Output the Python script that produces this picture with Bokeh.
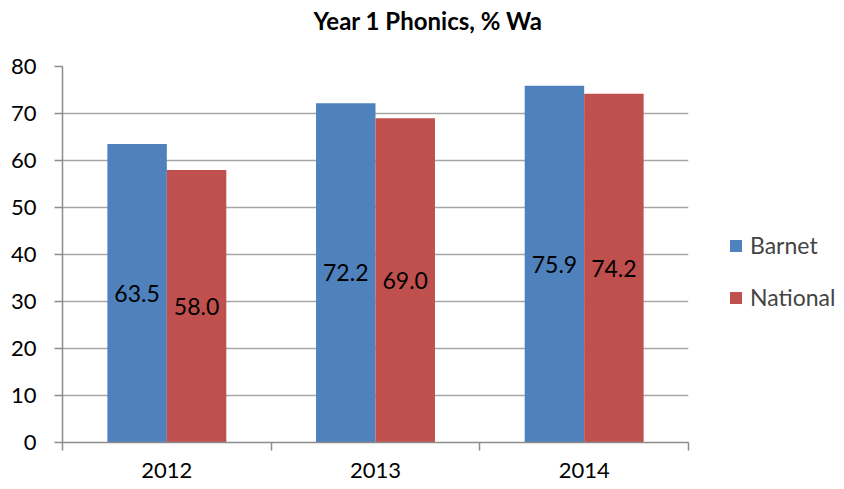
from bokeh.plotting import figure
from bokeh.models import (ColumnDataSource, FixedTicker, Legend, LegendItem,
                          LabelSet, Range1d, Title)
from bokeh.transform import dodge
from bokeh.core.properties import value
from bokeh.embed import file_html
from bokeh.resources import INLINE

years = ["2012", "2013", "2014"]
barnet = [63.5, 72.2, 75.9]
national = [58.0, 69.0, 74.2]
y_ticks = [0, 10, 20, 30, 40, 50, 60, 70, 80]

BLUE = "#4F81BD"
RED = "#C0504D"
GRID = "#A6A6A6"
AXIS = "#8C8C8C"
FONT = "Lato"

xpos = [i + 0.5 for i in range(len(years))]
src = ColumnDataSource(dict(
    x=xpos, year=years, barnet=barnet, national=national,
    barnet_half=[v / 2 for v in barnet], national_half=[v / 2 for v in national],
    barnet_txt=[f"{v:.1f}" for v in barnet], national_txt=[f"{v:.1f}" for v in national],
))

p = figure(frame_width=626, frame_height=376, output_backend="svg", toolbar_location=None,
           x_range=Range1d(0, len(years)), y_range=Range1d(0, 80), title_location=None,
           min_border_left=62, min_border_right=0, min_border_top=66, min_border_bottom=44)
p.outline_line_color = None
p.background_fill_color = "white"

BW = 0.285
OFF = 0.1425
r1 = p.vbar(x=dodge("x", -OFF), top="barnet", width=BW, source=src,
            fill_color=BLUE, line_color=None)
r2 = p.vbar(x=dodge("x", OFF), top="national", width=BW, source=src,
            fill_color=RED, line_color=None)

for col, off in (("barnet", -OFF), ("national", OFF)):
    p.add_layout(LabelSet(x=dodge("x", off), y=f"{col}_half", text=f"{col}_txt", source=src,
                          text_align="center", text_baseline="middle",
                          text_font=value(FONT), text_font_size="23px", text_color="black"))

# x axis
p.xaxis.ticker = FixedTicker(ticks=xpos, minor_ticks=list(range(len(years) + 1)))
p.xaxis.major_label_overrides = {x: y for x, y in zip(xpos, years)}
p.xaxis.major_tick_line_color = None
p.xaxis.major_tick_out = 0
p.xaxis.major_tick_in = 0
p.xaxis.minor_tick_out = 8
p.xaxis.minor_tick_in = 0
p.xaxis.minor_tick_line_color = AXIS
p.xaxis.minor_tick_line_width = 1.5
p.xaxis.axis_line_color = AXIS
p.xaxis.axis_line_width = 1.5
p.xaxis.major_label_standoff = 12
p.xaxis.major_label_text_font = FONT
p.xaxis.major_label_text_font_size = "22px"
p.xaxis.major_label_text_color = "black"

# y axis
p.yaxis.ticker = FixedTicker(ticks=y_ticks)
p.yaxis.major_tick_out = 8
p.yaxis.major_tick_in = 0
p.yaxis.minor_tick_line_color = None
p.yaxis.major_tick_line_color = AXIS
p.yaxis.major_tick_line_width = 1.5
p.yaxis.axis_line_color = AXIS
p.yaxis.axis_line_width = 1.5
p.yaxis.major_label_standoff = 18
p.yaxis.major_label_text_font = FONT
p.yaxis.major_label_text_font_size = "22px"
p.yaxis.major_label_text_color = "black"

p.xgrid.grid_line_color = None
p.ygrid.grid_line_color = GRID
p.ygrid.grid_line_width = 1.5
p.ygrid.ticker = FixedTicker(ticks=y_ticks)

# spacer between frame and title (nearest the frame), then the title itself
p.add_layout(Title(text=" ", text_font_size="2px", standoff=26), "above")
p.add_layout(Title(text="Year 1 Phonics, % Wa", text_font=FONT, text_font_size="24px",
                   text_font_style="bold", text_color="black", align="left", offset=251,
                   vertical_align="top", standoff=0), "above")

legend = Legend(items=[LegendItem(label="Barnet", renderers=[r1]),
                       LegendItem(label="National", renderers=[r2])],
                location=(40, 131), orientation="vertical",
                glyph_width=15, glyph_height=15, label_standoff=7,
                label_height=26, spacing=24, padding=0, margin=0,
                border_line_color=None, background_fill_alpha=0,
                label_text_font=FONT, label_text_font_size="23px")
p.add_layout(legend, "right")

open("out.html", "w").write(file_html(p, INLINE))
